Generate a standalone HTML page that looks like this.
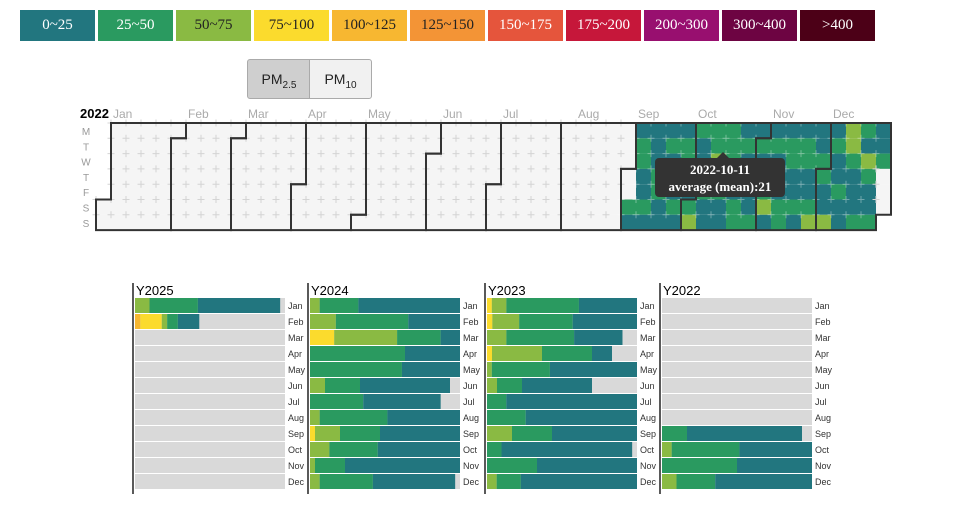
<!DOCTYPE html>
<html><head><meta charset="utf-8">
<style>
body{margin:0;width:970px;height:510px;background:#fff;position:relative;overflow:hidden;font-family:"Liberation Sans",sans-serif}
.lg{position:absolute;top:10px;height:31px;width:75px;font:15px "Liberation Serif",serif;text-align:center;line-height:31px}
.btn{position:absolute;top:59px;height:38px;border:1px solid #aaa;font:14px "Liberation Sans",sans-serif;text-align:center;line-height:38px;color:#222}
.btn sub{font-size:10px}
#tip{position:absolute;left:655px;top:158px;width:130px;height:39px;background:#333;border-radius:4px;color:#fff;font:bold 13px "Liberation Serif",serif;text-align:center;line-height:17px;padding-top:3px;box-sizing:border-box}
#tip:before{content:"";position:absolute;left:62px;top:-6px;border:6px solid transparent;border-top:0;border-bottom-color:#333}
</style></head><body>
<div id="legend"></div>
<div class="btn" style="left:247px;width:62px;background:#cfcfcf;border-radius:3px 0 0 3px">PM<sub>2.5</sub></div>
<div class="btn" style="left:309px;width:61px;background:#f1f1f1;border-radius:0 3px 3px 0">PM<sub>10</sub></div>
<svg id="cal" width="970" height="250" style="position:absolute;left:0;top:0"></svg>
<div id="tip">2022-10-11<br>average (mean):21</div>
<svg id="bars" width="970" height="510" style="position:absolute;left:0;top:0"></svg>
<script>
const legendLabels=["0~25","25~50","50~75","75~100","100~125","125~150","150~175","175~200","200~300","300~400",">400"];
const legendColors=["#22767f","#2a9a60","#8aba43","#fbdb2d","#f7b731","#f39436","#e5553c","#c6173a","#980f6f","#6d0442","#4c0017"];
const legendText=["#fff","#fff","#222","#222","#222","#222","#fff","#fff","#fff","#fff","#fff"];
const thresholds=[25,50,75,100,125,150,200,300,400];
const monthNames=["Jan","Feb","Mar","Apr","May","Jun","Jul","Aug","Sep","Oct","Nov","Dec"];
const dayLabels=["M","T","W","T","F","S","S"];
// daily values Sep 3 .. Dec 31 2022
const dailyStart="2022-09-03";
const dailyValues=[
30,18,
20,34,40,16,22,30,20,18,15,21,38,45,20,17,19,33,16,20,18,36,22,14,28,30,24,18,
32,55,40,20,21,45,30,16,22,33,36,60,80,44,22,19,30,28,35,18,24,32,48,20,30,22,17,
20,22,34,18,40,16,24,30,55,20,22,36,18,15,20,34,28,19,45,30,22,16,36,18,22,40,30,20,18,26,
60,22,18,30,36,20,16,62,22,30,18,20,36,24,16,58,70,30,20,22,18,35,30,22,52,34,20,18,30,22,24,30];
// monthly counts of days per category [0~25,25~50,50~75,75~100,100~125]
const years=["Y2025","Y2024","Y2023","Y2022"];
const yearNums=[2025,2024,2023,2022];
const y2025=[[17,10,3,0,0],[4,2,1,4,1],[0,0,0,0,0],[0,0,0,0,0],[0,0,0,0,0],[0,0,0,0,0],[0,0,0,0,0],[0,0,0,0,0],[0,0,0,0,0],[0,0,0,0,0],[0,0,0,0,0],[0,0,0,0,0]];
const y2024=[[21,8,2,0,0],[10,14,5,0,0],[4,9,13,5,0],[11,19,0,0,0],[12,19,0,0,0],[18,7,3,0,0],[16,11,0,0,0],[15,14,2,0,0],[16,8,5,1,0],[17,10,4,0,0],[23,6,1,0,0],[17,11,2,0,0]];
const y2023=[[12,15,3,1,0],[12,10,5,1,0],[10,14,4,0,0],[4,10,10,1,0],[18,12,1,0,0],[14,5,2,0,0],[27,4,0,0,0],[23,8,0,0,0],[17,8,5,0,0],[27,3,0,0,0],[20,10,0,0,0],[24,5,2,0,0]];
const y2022=[[0,0,0,0,0],[0,0,0,0,0],[0,0,0,0,0],[0,0,0,0,0],[0,0,0,0,0],[0,0,0,0,0],[0,0,0,0,0],[0,0,0,0,0],[23,5,0,0,0],[15,14,2,0,0],[15,15,0,0,0],[20,8,3,0,0]];
const yearData=[y2025,y2024,y2023,y2022];

const lg=document.getElementById('legend');
legendLabels.forEach((t,i)=>{const d=document.createElement('div');d.className='lg';


d.style.left=(20+i*78)+'px';d.style.background=legendColors[i];d.style.color=legendText[i];d.textContent=t;lg.appendChild(d);});

const NS="http://www.w3.org/2000/svg";
function mk(p,tag,at){const e=document.createElementNS(NS,tag);for(const k in at)e.setAttribute(k,at[k]);p.appendChild(e);return e;}
function colorOf(v){let i=0;while(i<thresholds.length&&v>thresholds[i])i++;return legendColors[i];}

const cal=document.getElementById('cal');
const X0=96,Y0=123,W=15,H=15.3,YEAR=2022;
const jan1=new Date(Date.UTC(YEAR,0,1));
const off=(jan1.getUTCDay()+6)%7;
function pos(d){const doy=Math.round((d-jan1)/864e5);return {c:Math.floor((doy+off)/7),r:(d.getUTCDay()+6)%7};}
const startD=new Date(dailyStart+"T00:00:00Z");
const valMap={};
dailyValues.forEach((v,i)=>{valMap[Math.round((startD-jan1)/864e5)+i]=v;});
const gCells=mk(cal,'g',{});
const gCross=mk(cal,'g',{});
for(let d=new Date(jan1);d.getUTCFullYear()===YEAR;d=new Date(d.getTime()+864e5)){
  const p=pos(d);const doy=Math.round((d-jan1)/864e5);
  const v=valMap[doy];
  const cx=X0+p.c*W,cy=Y0+p.r*H;
  const r=mk(gCells,'rect',{x:cx,y:cy,width:W,height:H,fill:v===undefined?'#f5f5f5':colorOf(v)});
  
  
  mk(gCross,'path',{d:`M${cx-3.5},${cy}H${cx+3.5}M${cx},${cy-3.5}V${cy+3.5}`,stroke:v===undefined?'#d4d4d4':'rgba(255,255,255,0.35)','stroke-width':1});
}
for(let m=0;m<12;m++){
  const a=pos(new Date(Date.UTC(YEAR,m,1))),b=pos(new Date(Date.UTC(YEAR,m+1,0)));
  const x=c=>X0+c*W,y=r=>Y0+r*H;
  const pth=mk(cal,'path',{d:`M${x(a.c+1)},${y(a.r)}H${x(a.c)}V${y(7)}H${x(b.c)}V${y(b.r+1)}H${x(b.c+1)}V${y(0)}H${x(a.c+1)}Z`,fill:'none',stroke:'#333','stroke-width':2});
  
  
  const t=mk(cal,'text',{x:x(a.c+1)+2,y:118,fill:'#aaa','font-size':12,'font-family':'Liberation Sans,sans-serif'});
  t.textContent=monthNames[m];
  
  
}
const yt=mk(cal,'text',{x:80,y:118,'font-size':13,'font-weight':'bold','font-family':'Liberation Sans,sans-serif',fill:'#000'});yt.textContent=String(YEAR);


dayLabels.forEach((l,i)=>{const t=mk(cal,'text',{x:86,y:Y0+i*H+12,'font-size':10,fill:'#999','text-anchor':'middle','font-family':'Liberation Sans,sans-serif'});t.textContent=l;

});

const bars=document.getElementById('bars');
const PX=[135,310,487,662],BW=150,BY=298,BS=16,BH=15;
years.forEach((yn,k)=>{
  const g=mk(bars,'g',{});
  
  
  mk(g,'line',{x1:PX[k]-2,x2:PX[k]-2,y1:283,y2:494,stroke:'#000','stroke-width':1.3});
  const t=mk(g,'text',{x:PX[k]+1,y:295,'font-size':13,'font-family':'Liberation Sans,sans-serif',fill:'#000'});t.textContent=yn;
  
  
  yearData[k].forEach((counts,m)=>{
    const days=new Date(Date.UTC(yearNums[k],m+1,0)).getUTCDate();
    const yy=BY+m*BS;
    const bg=mk(g,'rect',{x:PX[k],y:yy,width:BW,height:BH,fill:'#d9d9d9'});
    
    
    let acc=0;
    for(let c=counts.length-1;c>=0;c--){
      if(!counts[c])continue;
      const w=counts[c]/days*BW;
      const r=mk(g,'rect',{x:PX[k]+acc,y:yy,width:w,height:BH,fill:legendColors[c]});
      
      
      acc+=w;
    }
    const lt=mk(g,'text',{x:PX[k]+BW+3,y:yy+11,'font-size':9,'font-family':'Liberation Sans,sans-serif',fill:'#333'});lt.textContent=monthNames[m];
    
    
  });
});
</script>
</body></html>
